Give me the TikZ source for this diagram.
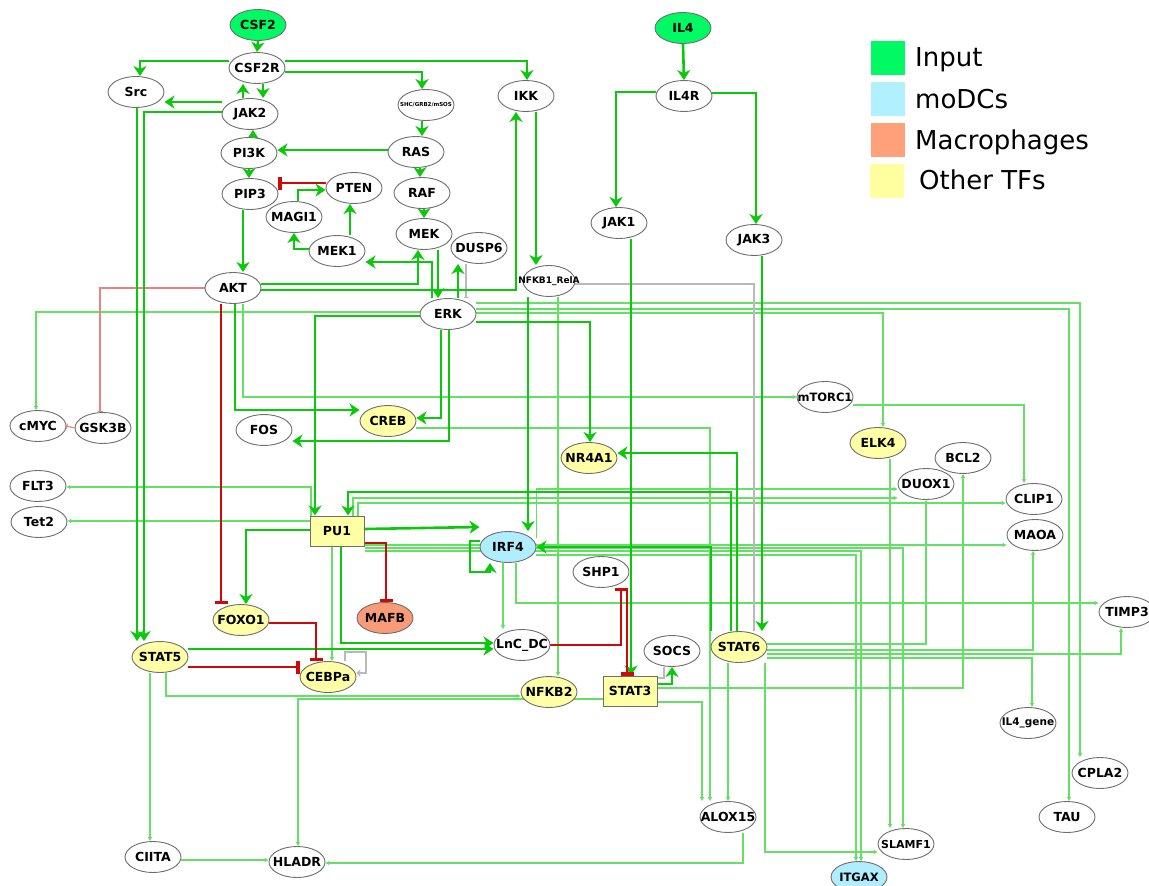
\documentclass[tikz,border=0pt]{standalone}
\usepackage{fontspec}
\setmainfont{DejaVu Sans}
\usetikzlibrary{shapes.geometric,arrows.meta,backgrounds}
\definecolor{ndc}{RGB}{110,110,110}
\definecolor{inpc}{RGB}{0,250,100}
\definecolor{dcc}{RGB}{176,238,255}
\definecolor{macc}{RGB}{250,155,120}
\definecolor{tfy}{RGB}{255,255,165}
\definecolor{gk}{RGB}{10,200,10}
\definecolor{tg}{RGB}{100,225,100}
\definecolor{rd}{RGB}{205,10,10}
\definecolor{lrd}{RGB}{235,130,130}
\definecolor{gry}{RGB}{185,185,185}
\begin{document}
\begin{tikzpicture}[x=1pt,y=1pt,
 gn/.style={ellipse,draw=ndc,line width=0.9pt,fill=white,minimum width=56pt,minimum height=31pt,inner xsep=-8pt,inner ysep=0pt,font=\fontsize{12.5}{13}\selectfont\bfseries},
 bx/.style={rectangle,draw=ndc,line width=1pt,fill=tfy,minimum width=54pt,minimum height=30pt,inner sep=0pt,font=\fontsize{12.5}{13}\selectfont\bfseries},
 inp/.style={gn,fill=inpc}, dc/.style={gn,fill=dcc}, mac/.style={gn,fill=macc}, tf/.style={gn,fill=tfy},
 g/.style={draw=gk,line width=2.6pt,-{Stealth[length=10pt,width=13pt,inset=3pt]}},
 t/.style={draw=tg,line width=1.1pt,-{Triangle[length=4pt,width=4pt]}},
 r/.style={draw=rd,line width=2.6pt,-{Bar[width=13pt,line width=3.5pt]}},
 lr/.style={draw=lrd,line width=1.1pt,-{Bar[width=5pt]}},
 gy/.style={draw=gry,line width=1.1pt},
 lgbox/.style={rectangle,minimum width=34pt,minimum height=34pt,inner sep=0pt},
 lg/.style={anchor=base west,inner sep=0pt,font=\fontsize{26}{28}\selectfont},
]
\useasboundingbox (0,0) rectangle (1149,-886);
% ---------- nodes ----------
\node[inp] (CSF2) at (258,-25) {CSF2};
\node[gn] (CSF2R) at (257,-68) {CSF2R};
\node[gn] (Src) at (136,-92) {Src};
\node[gn] (JAK2) at (250,-114) {JAK2};
\node[gn,font=\fontsize{5.5}{6}\selectfont\bfseries] (SHC) at (426,-105) {SHC/GRB2/mSOS};
\node[gn] (IKK) at (526,-96) {IKK};
\node[gn] (PI3K) at (249,-153) {PI3K};
\node[gn] (RAS) at (416,-152) {RAS};
\node[gn] (PIP3) at (250,-194) {PIP3};
\node[gn] (PTEN) at (354,-188) {PTEN};
\node[gn] (RAF) at (422,-193) {RAF};
\node[gn] (MAGI1) at (294,-217) {MAGI1};
\node[gn] (MEK) at (424,-234) {MEK};
\node[gn] (DUSP6) at (479,-248) {DUSP6};
\node[gn] (MEK1) at (337,-251) {MEK1};
\node[gn] (AKT) at (233,-288) {AKT};
\node[gn] (ERK) at (448,-314) {ERK};
\node[gn,font=\fontsize{9}{10}\selectfont\bfseries,minimum width=52pt,inner xsep=-16pt] (NFKB1) at (549,-281) {NFKB1\_RelA};
\node[inp] (IL4) at (683,-28) {IL4};
\node[gn] (IL4R) at (684,-96) {IL4R};
\node[gn] (JAK1) at (619,-223) {JAK1};
\node[gn] (JAK3) at (754,-240) {JAK3};
\node[gn,font=\fontsize{11.5}{12}\selectfont\bfseries] (mTORC1) at (825,-397) {mTORC1};
\node[gn] (cMYC) at (38,-426) {cMYC};
\node[gn] (GSK3B) at (103,-428) {GSK3B};
\node[gn] (FOS) at (264,-430) {FOS};
\node[tf] (CREB) at (388,-421) {CREB};
\node[tf] (NR4A1) at (589,-458) {NR4A1};
\node[tf] (ELK4) at (878,-443) {ELK4};
\node[gn] (BCL2) at (963,-458) {BCL2};
\node[gn] (DUOX1) at (926,-484) {DUOX1};
\node[gn] (CLIP1) at (1034,-499) {CLIP1};
\node[gn] (MAOA) at (1035,-535) {MAOA};
\node[gn] (FLT3) at (38,-486) {FLT3};
\node[gn] (Tet2) at (39,-522) {Tet2};
\node[bx] (PU1) at (337,-531) {PU1};
\node[dc] (IRF4) at (508,-547) {IRF4};
\node[gn] (SHP1) at (601,-572) {SHP1};
\node[gn] (TIMP3) at (1127,-612) {TIMP3};
\node[tf] (FOXO1) at (241,-620) {FOXO1};
\node[mac] (MAFB) at (385,-618) {MAFB};
\node[tf] (STAT5) at (160,-657) {STAT5};
\node[tf] (CEBPa) at (328,-677) {CEBPa};
\node[gn] (LnC) at (522,-645) {LnC\_DC};
\node[gn] (SOCS) at (672,-651) {SOCS};
\node[tf] (STAT6) at (739,-647) {STAT6};
\node[tf] (NFKB2) at (549,-692) {NFKB2};
\node[bx] (STAT3) at (630,-691) {STAT3};
\node[gn,font=\fontsize{10.5}{11}\selectfont\bfseries] (IL4g) at (1028,-723) {IL4\_gene};
\node[gn] (CPLA2) at (1100,-773) {CPLA2};
\node[gn] (TAU) at (1067,-817) {TAU};
\node[gn] (ALOX15) at (728,-817) {ALOX15};
\node[gn,font=\fontsize{11}{12}\selectfont\bfseries] (SLAMF1) at (906,-844) {SLAMF1};
\node[gn] (CIITA) at (153,-857) {CIITA};
\node[gn] (HLADR) at (297,-862) {HLADR};
\node[dc,font=\fontsize{11.5}{12}\selectfont\bfseries] (ITGAX) at (859,-877) {ITGAX};
% ---------- legend ----------
\node[lgbox,fill=inpc] (lb1) at (888,-58) {};
\node[lgbox,fill={rgb,255:red,176;green,240;blue,255}] (lb2) at (888,-99) {};
\node[lgbox,fill={rgb,255:red,255;green,160;blue,122}] (lb3) at (888,-140) {};
\node[lgbox,fill={rgb,255:red,255;green,255;blue,160}] (lb4) at (887,-181) {};
\node[lg] (lt1) at (915,-66) {Input};
\node[lg] (lt2) at (915,-108) {moDCs};
\node[lg] (lt3) at (915,-149) {Macrophages};
\node[lg] (lt4) at (919,-189) {Other TFs};
% ---------- edges ----------
\begin{pgfonlayer}{background}
\fill[white] (0,0) rectangle (1149,-886);
% thin green
\draw[t] (NFKB1.south -| 558,0) -- (NFKB2.north -| 558,0);
\draw[t] (AKT.south -| 243,0) -- (243,-397) -- (mTORC1.west |- 0,-397);
\draw[t] (ERK.west |- 0,-312) -- (36,-312) -- (cMYC.north -| 36,0);
\draw[t] (ERK.east |- 0,-303) -- (1080,-303) -- (CPLA2.north -| 1080,0);
\draw[t] (ERK.east |- 0,-309) -- (1069,-309) -- (TAU.north -| 1069,0);
\draw[t] (ERK.east |- 0,-313) -- (883,-313) -- (ELK4.north -| 883,0);
\draw[t] (PU1.south -| 332,0) -- (CEBPa.north -| 332,0);
\draw[t] (PU1.north -| 311,0) -- (311,-487) -- (FLT3.east |- 0,-487);
\draw[t] (PU1.west |- 0,-521) -- (Tet2.east |- 0,-521);
\draw[t] (PU1.east |- 0,-545) -- (MAOA.west |- 0,-545);
\draw[t] (PU1.east |- 0,-548) -- (903,-548) -- (SLAMF1.north -| 903,0);
\draw[t] (PU1.east |- 0,-551) -- (861,-551) -- (ITGAX.north -| 861,0);
\draw[t] (IRF4.east |- 0,-555) -- (856,-555) -- (ITGAX.north -| 856,0);
\draw[t] (IRF4.south -| 503,0) -- (LnC.north -| 503,0);
\draw[t] (IRF4.south -| 516,0) -- (516,-603) -- (TIMP3.west |- 0,-603);
\draw[t] (IRF4.east |- 0,-538) -- (IRF4.east |- 0,-489) -- (DUOX1.west |- 0,-489);
\draw[t] (PU1.north -| 353,0) -- (353,-498) -- (DUOX1.west |- 0,-498);
\draw[t] (PU1.north -| 358,0) -- (358,-503) -- (CLIP1.west |- 0,-503);
\draw[t] (ELK4.south -| 890,0) -- (SLAMF1.north -| 890,0);
\draw[t] (STAT6.east |- 0,-644) -- (926,-644) -- (DUOX1.south -| 926,0);
\draw[t] (STAT6.east |- 0,-650) -- (1033,-650) -- (MAOA.south -| 1033,0);
\draw[t] (STAT6.east |- 0,-654) -- (1121,-654) -- (TIMP3.south -| 1121,0);
\draw[t] (STAT6.east |- 0,-658) -- (1032,-658) -- (IL4g.north -| 1032,0);
\draw[t] (STAT3.east |- 0,-688) -- (963,-688) -- (BCL2.south -| 963,0);
\draw[t] (STAT6.south -| 765,0) -- (765,-852) -- (SLAMF1.west |- 0,-852);
\draw[t] (STAT6.south -| 728,0) -- (ALOX15.north -| 728,0);
\draw[t] (STAT3.east |- 0,-702) -- (702,-702) -- (ALOX15.north -| 702,0);
\draw[t] (CREB.east |- 0,-428) -- (710,-428) -- (ALOX15.north -| 710,0);
\draw[t] (ALOX15.south -| 743,0) -- (743,-863) -- (HLADR.east |- 0,-863);
\draw[t] (CIITA.east |- 0,-860) -- (HLADR.west |- 0,-860);
\draw[t] (STAT5.south -| 150,0) -- (CIITA.north -| 150,0);
\draw[t] (STAT5.south -| 166,0) -- (166,-696) -- (NFKB2.west |- 0,-696);
\draw[t] (STAT3.west |- 0,-699) -- (298,-699) -- (HLADR.north -| 298,0);
\draw[t] (mTORC1.east |- 0,-405) -- (1024,-405) -- (CLIP1.north -| 1024,0);
% gray and light red
\draw[gy,-{Bar[width=5pt]}] (DUSP6.south -| 466,0) -- (ERK.north -| 466,0);
\draw[gy] (NFKB1.east |- 0,-284) -- (754,-284) -- (STAT6.north -| 754,0);
\draw[gy,-{Straight Barb[length=3pt]}] (CEBPa.north -| 345,0) -- (345,-652) -- (366,-652) -- (366,-673) -- (CEBPa.east |- 0,-673);
\draw[gy] (SOCS.south -| 664,0) -- (664,-678) -- (STAT3.east |- 0,-678);
\draw[lr] (AKT.west |- 0,-288) -- (100,-288) -- (GSK3B.north -| 100,0);
\draw[lr] (GSK3B.west) -- (cMYC.east);
% thick green
\draw[g] (CSF2.south) -- (CSF2R.north);
\draw[g] (CSF2R.west |- 0,-61) -- (140,-61) -- (Src.north -| 140,0);
\draw[g] (JAK2.north -| 243,0) -- (CSF2R.south -| 243,0);
\draw[g] (CSF2R.south -| 263,0) -- (JAK2.north -| 263,0);
\draw[g] (CSF2R.east |- 0,-72) -- (422,-72) -- (SHC.north -| 422,0);
\draw[g] (CSF2R.east |- 0,-61) -- (527,-61) -- (IKK.north -| 527,0);
\draw[g] (JAK2.west |- 0,-102) -- (Src.east |- 0,-102);
\draw[g] (JAK2.west |- 0,-112) -- (144,-112) -- (STAT5.north -| 144,0);
\draw[g] (Src.south -| 137,0) -- (STAT5.north -| 137,0);
\draw[g] (PI3K.north -| 253,0) -- (JAK2.south -| 253,0);
\draw[g] (SHC.south -| 422,0) -- (RAS.north -| 422,0);
\draw[g] (RAS.west |- 0,-150) -- (PI3K.east |- 0,-150);
\draw[g] (RAS.south -| 420,0) -- (RAF.north -| 420,0);
\draw[g] (RAF.south -| 424,0) -- (MEK.north -| 424,0);
\draw[g] (PI3K.south -| 249,0) -- (PIP3.north -| 249,0);
\draw[g] (MAGI1.north -| 298,0) -- (298,-190) -- (PTEN.west |- 0,-190);
\draw[g] (MEK1.north -| 350,0) -- (PTEN.south -| 350,0);
\draw[g] (MEK1.west |- 0,-249) -- (294,-249) -- (MAGI1.south -| 294,0);
\draw[g] (PIP3.south -| 243,0) -- (AKT.north -| 243,0);
\draw[g] (ERK.north -| 432,0) -- (432,-262) -- (MEK1.east |- 0,-262);
\draw[g] (AKT.east |- 0,-284) -- (418,-284) -- (MEK.south -| 418,0);
\draw[g] (MEK.south -| 438,0) -- (ERK.north -| 438,0);
\draw[g] (ERK.north -| 458,0) -- (DUSP6.south -| 458,0);
\draw[g] (AKT.east |- 0,-290) -- (516,-290) -- (IKK.south -| 516,0);
\draw[g] (IKK.south -| 536,0) -- (NFKB1.north -| 536,0);
\draw[g] (NFKB1.south -| 528,0) -- (IRF4.north -| 528,0);
\draw[g] (JAK3.south -| 762,0) -- (STAT6.north -| 762,0);
\draw[g] (JAK1.south -| 631,0) -- (STAT3.north -| 631,0);
\draw[g] (IL4.south) -- (IL4R.north);
\draw[g] (IL4R.west |- 0,-92) -- (616,-92) -- (JAK1.north -| 616,0);
\draw[g] (IL4R.east |- 0,-93) -- (756,-93) -- (JAK3.north -| 756,0);
\draw[g] (ERK.west |- 0,-316) -- (315,-316) -- (PU1.north -| 315,0);
\draw[g] (ERK.south -| 441,0) -- (441,-418) -- (CREB.east |- 0,-418);
\draw[g] (ERK.south -| 449,0) -- (449,-441) -- (FOS.east |- 0,-441);
\draw[g] (ERK.east |- 0,-322) -- (590,-322) -- (NR4A1.north -| 590,0);
\draw[g] (AKT.south -| 235,0) -- (235,-410) -- (CREB.west |- 0,-410);
\draw[g] (PU1.east |- 0,-529) -- (IRF4.west |- 0,-527);
\draw[g] (PU1.west |- 0,-530) -- (246,-530) -- (FOXO1.north -| 246,0);
\draw[g] (PU1.south -| 341,0) -- (341,-643) -- (LnC.west |- 0,-643);
\draw[g] (STAT5.east |- 0,-649) -- (LnC.west |- 0,-649);
\draw[g] (STAT6.north -| 731,0) -- (731,-492) -- (348,-492) -- (PU1.north -| 348,0);
\draw[g] (STAT6.north -| 737,0) -- (737,-453) -- (NR4A1.east |- 0,-453);
\draw[g] (STAT6.north -| 711,0) -- (711,-547) -- (IRF4.east |- 0,-547);
\draw[g] (IRF4.west |- 0,-541) -- (470,-541) -- (470,-572) -- (490,-572) -- (IRF4.south -| 490,0);
\draw[g] (STAT3.east |- 0,-684) -- (672,-684) -- (SOCS.south -| 672,0);
% red
\draw[r] (PTEN.west |- 0,-183) -- (PIP3.east |- 0,-183);
\draw[r] (AKT.south -| 221,0) -- (FOXO1.north -| 221,0);
\draw[r] (PU1.east |- 0,-543) -- (386,-543) -- (MAFB.north -| 386,0);
\draw[r] (STAT5.east |- 0,-667) -- (CEBPa.west |- 0,-667);
\draw[r] (FOXO1.east |- 0,-623) -- (316,-623) -- (CEBPa.north -| 316,0);
\draw[r] (SHP1.south -| 627,0) -- (STAT3.north -| 627,0);
\draw[r] (LnC.east |- 0,-645) -- (621,-645) -- (SHP1.south -| 621,0);
\end{pgfonlayer}
\end{tikzpicture}
\end{document}
